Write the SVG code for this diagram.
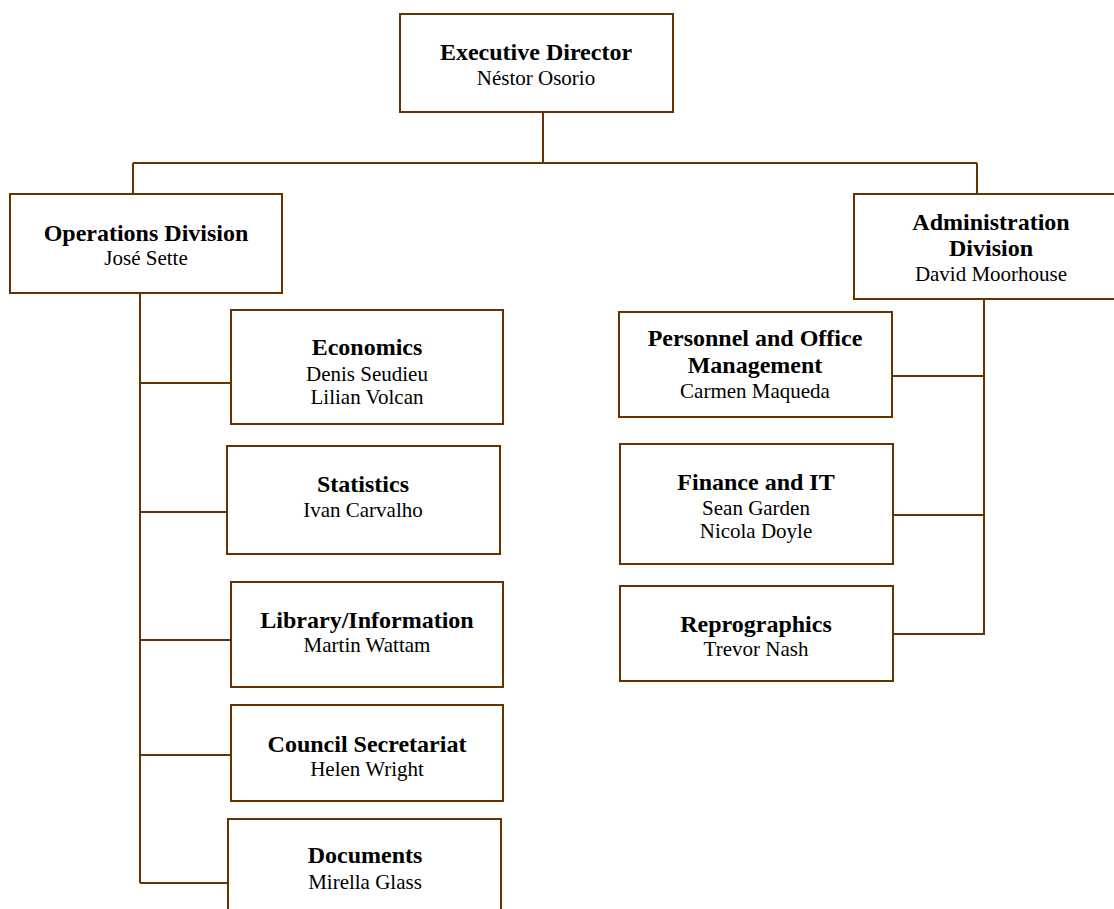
<svg xmlns="http://www.w3.org/2000/svg" width="1114" height="909" viewBox="0 0 1114 909">
<style>
.box{fill:#ffffff;stroke:#663300;stroke-width:2}
.ln{fill:none;stroke:#663300;stroke-width:2}
text{font-family:"Liberation Serif","Times New Roman",serif;text-anchor:middle;fill:#000}
.t{font-weight:bold;font-size:24px}
.n{font-size:21px}
</style>
<rect width="1114" height="909" fill="#ffffff"/>
<g id="connectors">
<path class="ln" d="M543 112V163M133 163H977M133 163V194M977 163V194"/>
<path class="ln" d="M140 293V883M140 383H231M140 512H227M140 640H231M140 755H231M140 883H228"/>
<path class="ln" d="M984 299V635M892 376H984M893 515H984M893 634H984"/>
</g>
<g id="exec"><rect class="box" x="400" y="14" width="273" height="98"/>
<text class="t" x="536" y="60">Executive Director</text><text class="n" x="536" y="85">Néstor Osorio</text></g>
<g id="operations"><rect class="box" x="10" y="194" width="272" height="99"/>
<text class="t" x="146" y="241">Operations Division</text><text class="n" x="146" y="265">José Sette</text></g>
<g id="administration"><rect class="box" x="854" y="194" width="270" height="105"/>
<text class="t" x="991" y="230">Administration</text><text class="t" x="991" y="256">Division</text><text class="n" x="991" y="281">David Moorhouse</text></g>
<g id="economics"><rect class="box" x="231" y="310" width="272" height="114"/>
<text class="t" x="367" y="355">Economics</text><text class="n" x="367" y="381">Denis Seudieu</text><text class="n" x="367" y="404">Lilian Volcan</text></g>
<g id="statistics"><rect class="box" x="227" y="446" width="273" height="108"/>
<text class="t" x="363" y="492">Statistics</text><text class="n" x="363" y="517">Ivan Carvalho</text></g>
<g id="library"><rect class="box" x="231" y="582" width="272" height="105"/>
<text class="t" x="367" y="628">Library/Information</text><text class="n" x="367" y="652">Martin Wattam</text></g>
<g id="council"><rect class="box" x="231" y="705" width="272" height="96"/>
<text class="t" x="367" y="752">Council Secretariat</text><text class="n" x="367" y="776">Helen Wright</text></g>
<g id="documents"><rect class="box" x="228" y="819" width="273" height="100"/>
<text class="t" x="365" y="863">Documents</text><text class="n" x="365" y="889">Mirella Glass</text></g>
<g id="personnel"><rect class="box" x="619" y="312" width="273" height="105"/>
<text class="t" x="755" y="346">Personnel and Office</text><text class="t" x="755" y="373">Management</text><text class="n" x="755" y="398">Carmen Maqueda</text></g>
<g id="finance"><rect class="box" x="620" y="444" width="273" height="120"/>
<text class="t" x="756" y="490">Finance and IT</text><text class="n" x="756" y="515">Sean Garden</text><text class="n" x="756" y="538">Nicola Doyle</text></g>
<g id="reprographics"><rect class="box" x="620" y="586" width="273" height="95"/>
<text class="t" x="756" y="632">Reprographics</text><text class="n" x="756" y="656">Trevor Nash</text></g>
</svg>
